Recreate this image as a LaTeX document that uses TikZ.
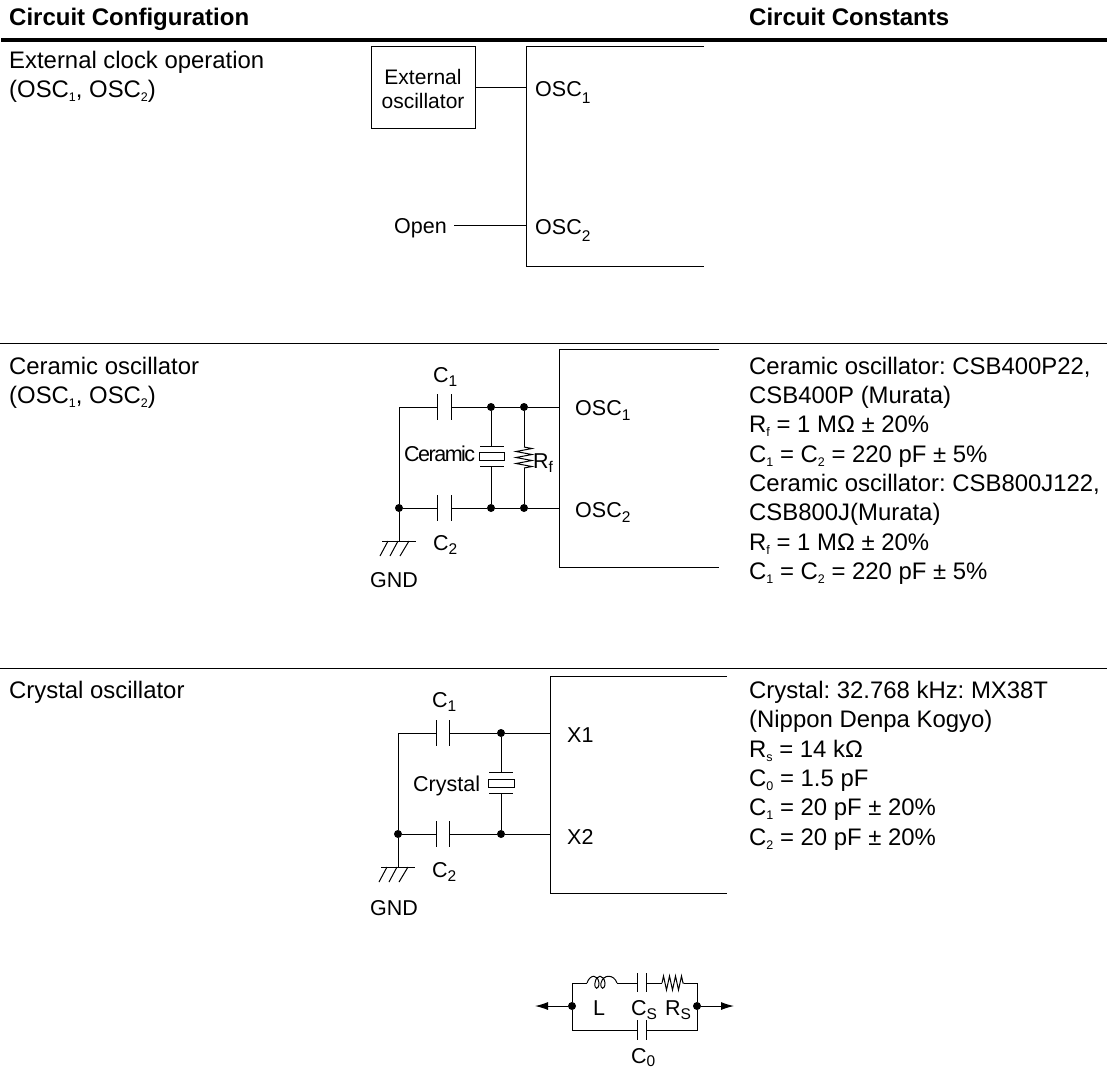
\documentclass[tikz,border=0pt]{standalone}
\usepackage{fontspec}
\setmainfont{Liberation Sans}
\newfontfamily\tightfont[LetterSpace=-7]{Liberation Sans}
\usetikzlibrary{arrows.meta,decorations.pathmorphing}
\newcommand{\smallsub}[1]{\raisebox{-4pt}{\fontsize{12.5}{13}\selectfont #1}}
\newcommand{\bigsub}[2][7pt]{\raisebox{-#1}{\fontsize{15.5}{16}\selectfont #2}}
\tikzset{
  wire/.style={line width=1pt},
  heading/.style={anchor=base west,inner sep=0pt,font=\fontsize{24}{29}\selectfont\bfseries},
  para/.style={anchor=north west,inner sep=0pt,align=left,font=\fontsize{23.9}{29.35}\selectfont},
  label/.style={anchor=base west,inner sep=0pt,font=\fontsize{21.5}{25}\selectfont},
  junction/.style={circle,fill=black,inner sep=0pt,minimum size=8pt},
  zigzag/.style={decorate,decoration={zigzag,segment length=6pt,amplitude=#1}},
  outarrow/.style={wire,-{Latex[length=13pt,width=8pt]}}
}
\begin{document}
\frenchspacing
\begin{tikzpicture}[x=1pt,y=-1pt]
    \useasboundingbox (0,0) rectangle (1107,1069);
    % headings
    \node[heading] (headconfig) at (9,25) {Circuit Configuration};
    \node[heading] (headconst) at (749,25) {Circuit Constants};
    \coordinate (ruleal) at (1,40);
    \coordinate (ruleart) at (1107,40);
    \draw[line width=3.5pt] (ruleal) -- (ruleart);
    \coordinate (rulebl) at (0,343);
    \coordinate (rulebr) at (1107,343);
    \draw[wire] (rulebl) -- (rulebr);
    \coordinate (rulecl) at (0,668);
    \coordinate (rulecr) at (1107,668);
    \draw[wire] (rulecl) -- (rulecr);
    % left column
    \node[para] (extname) at (9,51) {External clock operation\\(OSC\smallsub{1}, OSC\smallsub{2})};
    \node[para] (cername) at (9,357) {Ceramic oscillator\\(OSC\smallsub{1}, OSC\smallsub{2})};
    \node[para] (xtalname) at (9,681) {Crystal oscillator};
    % right column
    \node[para] (cerconst) at (749,356.5) {Ceramic oscillator: CSB400P22,\\CSB400P (Murata)\\R\smallsub{f} = 1 MΩ ± 20\%\\C\smallsub{1} = C\smallsub{2} = 220 pF ± 5\%\\Ceramic oscillator: CSB800J122,\\CSB800J(Murata)\\R\smallsub{f} = 1 MΩ ± 20\%\\C\smallsub{1} = C\smallsub{2} = 220 pF ± 5\%};
    \node[para] (xtalconst) at (749,681) {Crystal: 32.768 kHz: MX38T\\(Nippon Denpa Kogyo)\\R\smallsub{s} = 14 kΩ\\C\smallsub{0} = 1.5 pF\\C\smallsub{1} = 20 pF ± 20\%\\C\smallsub{2} = 20 pF ± 20\%};
    % external clock
    \node[draw,wire,minimum width=104pt,minimum height=82pt,inner sep=0pt,align=center,font=\fontsize{21}{24}\selectfont] (extosc) at (423,87) {\rule{0pt}{19pt}External\\oscillator};
    \coordinate (extul) at (704,46);
    \coordinate (extu) at (526,46);
    \coordinate (extl) at (526,266);
    \coordinate (extlr) at (704,266);
    \draw[wire] (extul) -- (extu) -- (extl) -- (extlr);
    \coordinate (extpa) at (526,87);
    \coordinate (extpb) at (526,225);
    \draw[wire] (extosc.east |- extpa) -- (extpa);
    \node[label] (openlbl) at (394,233) {Open};
    \coordinate (openend) at (454,225);
    \draw[wire] (openend) -- (extpb);
    \node[label] (extoa) at (535,96) {OSC\bigsub{1}};
    \node[label] (extob) at (535,234) {OSC\bigsub{2}};
    % ceramic
    \coordinate (cerul) at (719,349);
    \coordinate (ceru) at (559,349);
    \coordinate (cerl) at (559,567);
    \coordinate (cerlr) at (719,567);
    \draw[wire] (cerul) -- (ceru) -- (cerl) -- (cerlr);
    \coordinate (cerca) at (399,407);
    \coordinate (cera) at (437,407);
    \coordinate (cerb) at (451,407);
    \node[junction] (cerja) at (491,407) {};
    \node[junction] (cerjb) at (524,407) {};
    \coordinate (cerpa) at (559,407);
    \node[junction] (cerjg) at (399,508) {};
    \coordinate (cerc) at (437,508);
    \coordinate (cerd) at (451,508);
    \node[junction] (cerjc) at (491,508) {};
    \node[junction] (cerjd) at (524,508) {};
    \coordinate (cerpb) at (559,508);
    \draw[wire] (cerjg) -- (cerca) -- (cera) (cerb) -- (cerja) -- (cerjb) -- (cerpa);
    \draw[wire] (cerjg) -- (cerc) (cerd) -- (cerjc) -- (cerjd) -- (cerpb);
    \draw[wire] (437,394) -- (437,420) (451,394) -- (451,420);
    \draw[wire] (437,495) -- (437,521) (451,495) -- (451,521);
    % ceramic resonator
    \coordinate (ceta) at (491,446);
    \coordinate (cetb) at (491,466);
    \draw[wire] (cerja) -- (ceta) (cetb) -- (cerjc);
    \draw[wire] (480,446) -- (504,446) (480,466) -- (504,466);
    \draw[wire] (479,452) rectangle (504,460);
    % feedback resistor
    \coordinate (cerra) at (524,447);
    \coordinate (cerrb) at (524,468);
    \draw[wire] (cerjb) -- (cerra) (cerrb) -- (cerjd);
    \draw[wire,zigzag=8pt] (cerra) -- (cerrb);
    % ground
    \coordinate (cergnd) at (399,541);
    \draw[wire] (cerjg) -- (cergnd);
    \draw[wire] (382,541) -- (416,541);
    \draw[wire] (388,541) -- (380,556) (398,541) -- (390,556) (409,541) -- (400,556);
    \node[label] (cergl) at (370,587) {GND};
    \node[label] (cerlc) at (433,382) {C\bigsub[4pt]{1}};
    \node[label] (cerld) at (433,550) {C\bigsub[4pt]{2}};
    \node[label,font=\tightfont\fontsize{21.5}{25}\selectfont] (cerlt) at (404,461) {Ceramic};
    \node[label] (cerlrf) at (533,468) {R\bigsub[4pt]{f}};
    \node[label] (ceroa) at (575,415) {OSC\bigsub[5pt]{1}};
    \node[label] (cerob) at (575,517) {OSC\bigsub[5pt]{2}};
    % crystal
    \coordinate (xtalul) at (727,676);
    \coordinate (xtalu) at (550,676);
    \coordinate (xtall) at (550,893);
    \coordinate (xtallr) at (727,893);
    \draw[wire] (xtalul) -- (xtalu) -- (xtall) -- (xtallr);
    \coordinate (xtalca) at (398,733);
    \coordinate (xtala) at (436,733);
    \coordinate (xtalb) at (449,733);
    \node[junction] (xtalja) at (501,733) {};
    \coordinate (xtalpa) at (550,733);
    \node[junction] (xtaljg) at (398,834) {};
    \coordinate (xtalc) at (436,834);
    \coordinate (xtald) at (449,834);
    \node[junction] (xtaljc) at (501,834) {};
    \coordinate (xtalpb) at (550,834);
    \draw[wire] (xtaljg) -- (xtalca) -- (xtala) (xtalb) -- (xtalja) -- (xtalpa);
    \draw[wire] (xtaljg) -- (xtalc) (xtald) -- (xtaljc) -- (xtalpb);
    \draw[wire] (436,720) -- (436,746) (449,720) -- (449,746);
    \draw[wire] (436,821) -- (436,847) (449,821) -- (449,847);
    \coordinate (xtalta) at (501,772);
    \coordinate (xtaltb) at (501,793);
    \draw[wire] (xtalja) -- (xtalta) (xtaltb) -- (xtaljc);
    \draw[wire] (489,772) -- (513,772) (489,793) -- (513,793);
    \draw[wire] (488,779) rectangle (514,787);
    \coordinate (xtalgnd) at (398,867);
    \draw[wire] (xtaljg) -- (xtalgnd);
    \draw[wire] (381,867) -- (415,867);
    \draw[wire] (387,867) -- (379,882) (397,867) -- (389,882) (408,867) -- (399,882);
    \node[label] (xtalgl) at (370,915) {GND};
    \node[label] (xtallc) at (432,707) {C\bigsub[4pt]{1}};
    \node[label] (xtalld) at (432,877) {C\bigsub[4pt]{2}};
    \node[label] (xtallt) at (413,791) {Crystal};
    \node[label] (xtaloa) at (567,742) {X1};
    \node[label] (xtalob) at (567,844) {X2};
    % equivalent circuit
    \node[junction] (eqja) at (572,1006) {};
    \node[junction] (eqjb) at (697,1006) {};
    \coordinate (eqal) at (535,1006);
    \coordinate (eqar) at (734,1006);
    \draw[outarrow] (eqja) -- (eqal);
    \draw[outarrow] (eqjb) -- (eqar);
    \coordinate (equl) at (572,983);
    \coordinate (equr) at (697,983);
    \coordinate (eqbl) at (572,1030);
    \coordinate (eqbr) at (697,1030);
    \coordinate (eqia) at (587,983);
    \coordinate (eqib) at (617,983);
    \coordinate (eqca) at (637,983);
    \coordinate (eqcb) at (646,983);
    \coordinate (eqra) at (662,983);
    \coordinate (eqrb) at (684,983);
    \coordinate (eqda) at (637,1030);
    \coordinate (eqdb) at (646,1030);
    \draw[wire] (eqja) -- (equl) -- (eqia);
    \draw[wire] (eqib) -- (eqca) (eqcb) -- (eqra);
    \draw[wire] (eqrb) -- (equr) -- (eqjb) -- (eqbr) -- (eqdb);
    \draw[wire] (eqda) -- (eqbl) -- (eqja);
    \draw[wire] (eqia) .. controls (590,974) and (598,974) .. (599,983) .. controls (599,990) and (594,990) .. (595,983)
      .. controls (596,974) and (604,974) .. (605,983) .. controls (605,990) and (600,990) .. (601,983)
      .. controls (603,974) and (614,974) .. (eqib);
    \draw[wire] (637,973) -- (637,992) (646,973) -- (646,992);
    \draw[wire] (637,1020) -- (637,1040) (646,1020) -- (646,1040);
    \draw[wire,zigzag=7pt] (eqra) -- (eqrb);
    \node[label] (eqll) at (593,1015) {L};
    \node[label] (eqlc) at (631,1015) {C\bigsub[4pt]{S}};
    \node[label] (eqlr) at (665,1015) {R\bigsub[4pt]{S}};
    \node[label] (eqlo) at (631,1063) {C\bigsub[3pt]{0}};
  \end{tikzpicture}
\end{document}
